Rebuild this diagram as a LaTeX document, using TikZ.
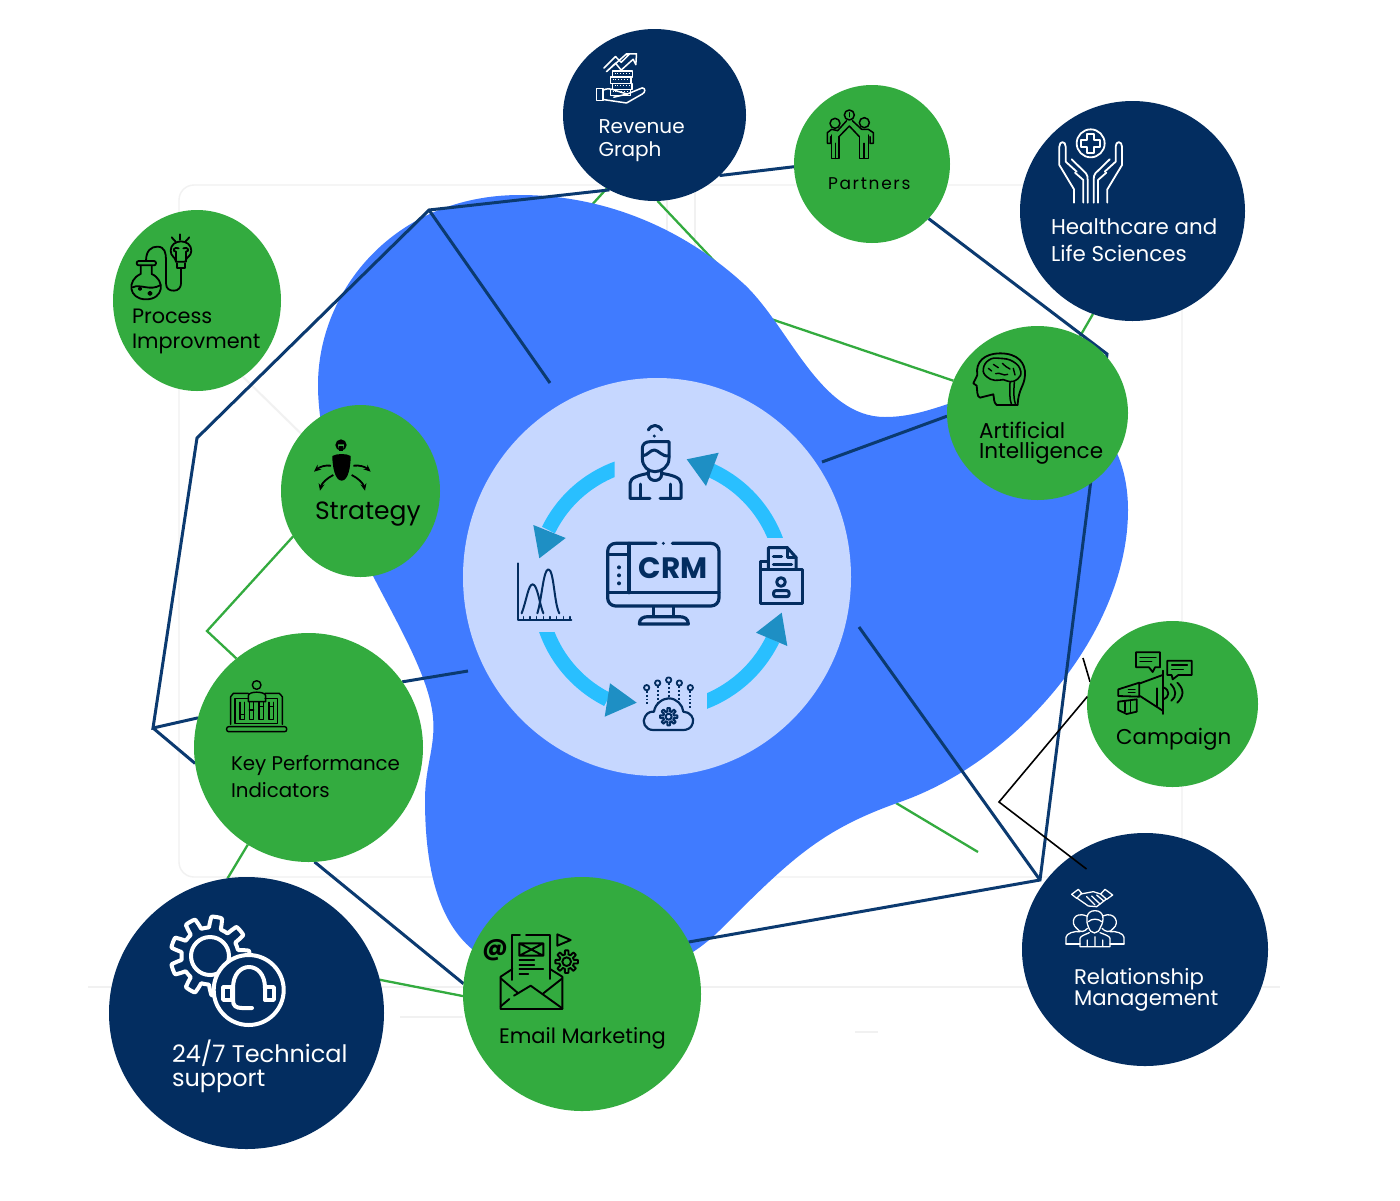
\documentclass[tikz,border=0pt]{standalone}
\usepackage{fontspec}
\setmainfont{Poppins}
\usetikzlibrary{shapes.geometric,arrows.meta}
\definecolor{navy}{HTML}{032D60}
\definecolor{navyline}{HTML}{0B3A70}
\definecolor{leaf}{HTML}{33AB3F}
\definecolor{blobblue}{HTML}{407BFF}
\definecolor{pale}{HTML}{C6D7FF}
\definecolor{sky}{HTML}{29BFFF}
\definecolor{teal}{HTML}{1E8FC4}
\definecolor{faint}{HTML}{F1F1F1}
\pgfdeclarelayer{back}\pgfdeclarelayer{mid}\pgfdeclarelayer{front}
\pgfsetlayers{back,mid,main,front}
\newcommand{\cogshape}[6]{\draw[#6] plot[domain=0:360,samples=181] ({#1+(#3+#4*max(-1,min(1,3*cos(#5*\x))))*cos(\x)},{#2+(#3+#4*max(-1,min(1,3*cos(#5*\x))))*sin(\x)}) -- cycle;}
\tikzset{
 blobnode/.style={ellipse,inner sep=0,outer sep=0,draw=none},
 gnode/.style={blobnode,fill=leaf},
 nnode/.style={blobnode,fill=navy},
 lbl/.style={anchor=base west,inner sep=0,outer sep=0,align=left},
 navyl/.style={draw=navyline,line width=3pt,miter limit=20},
 greenl/.style={draw=leaf,line width=2.3pt},
 blackl/.style={draw=black,line width=1.6pt,miter limit=20},
 faintl/.style={draw=faint,line width=1.4pt},
 ci/.style={draw=navy,line width=3pt,line cap=round,line join=round},
 bi/.style={draw=black,line width=1.8pt,line cap=round,line join=round},
 wi/.style={draw=white,line width=1.5pt,line cap=round,line join=round},
 band/.style={draw=sky,line width=14.5pt},
 head/.style={fill=teal,draw=none}
}
\begin{document}
\begin{tikzpicture}[x=1pt,y=-1pt]
\useasboundingbox (0,0) rectangle (1400,1200);
% nodes
\node[nnode,minimum width=183pt,minimum height=172pt] (rev) at (654.5,115) {};
\node[gnode,minimum width=156pt,minimum height=158pt] (par) at (872,164) {};
\node[nnode,minimum width=225pt,minimum height=220pt] (hea) at (1132.5,211) {};
\node[gnode,minimum width=181pt,minimum height=174pt] (art) at (1037.5,413) {};
\node[gnode,minimum width=171pt,minimum height=166pt] (cam) at (1172.5,704) {};
\node[nnode,minimum width=246pt,minimum height=233pt] (rel) at (1145,949.5) {};
\node[gnode,minimum width=238pt,minimum height=234pt] (ema) at (582,994) {};
\node[nnode,minimum width=275pt,minimum height=272pt] (tec) at (246.5,1013) {};
\node[gnode,minimum width=229pt,minimum height=229pt] (kpi) at (308.5,747.5) {};
\node[gnode,minimum width=159pt,minimum height=172pt] (str) at (360.5,491) {};
\node[gnode,minimum width=168pt,minimum height=181pt] (pro) at (197,300.5) {};
\node[blobnode,fill=pale,minimum width=388pt,minimum height=398pt] (cen) at (657,577) {};
% free points
\coordinate (n1) at (429,210);
\coordinate (n2) at (197,438);
\coordinate (n3) at (153,728);
\coordinate (n4) at (1107,354);
\coordinate (n5) at (1040,880);
\coordinate (e1) at (550,383);
\coordinate (e2) at (468,671);
\coordinate (e3) at (822,462);
\coordinate (e4) at (859,627);
\coordinate (g1) at (768,318);
\coordinate (g2) at (207,631);
\coordinate (g3) at (896,803);
\coordinate (g4) at (978,852);
\coordinate (g5) at (560,240);
\coordinate (k1) at (999,802);
\coordinate (k2) at (1086.5,869);
\coordinate (k3) at (1083,658);
% faint layout lines, green connectors
\begin{pgfonlayer}{back}
\fill[white] (0,0) rectangle (1400,1200);
\draw[faintl,rounded corners=15pt] (179,185) rectangle (1182,877);
\draw[faintl] (667,185) -- (667,240);
\draw[faintl] (695,185) -- (695,260);
\draw[faintl] (88,987) -- (1280,987);
\draw[faintl] (400,1017) -- (463,1017);
\draw[faintl] (855,1032) -- (878,1032);
\draw[faintl,line width=2pt] (pro.301) -- (str.136);
\draw[greenl] (rev.237) -- (g5);
\draw[greenl] (rev.272) -- (g1) -- (art.159);
\draw[greenl] (hea.249) -- (art.61);
\draw[greenl] (str.214) -- (g2) -- (kpi.129);
\draw[greenl] (kpi.238) -- (tec.98);
\draw[greenl] (tec.14) -- (ema.181);
\draw[greenl] (g3) -- (g4);
\draw[blackl] (k3) -- (cam.165);
\fill[blobblue] (520,195) .. controls (600,195) and (680,225) .. (745,285)
 .. controls (790,328) and (820,417) .. (885,417)
 .. controls (910,417) and (930,410) .. (960,400)
 .. controls (1060,370) and (1128,420) .. (1128,510)
 .. controls (1128,630) and (1020,760) .. (900,802)
 .. controls (820,830) and (790,860) .. (720,930)
 .. controls (680,970) and (620,990) .. (560,975)
 .. controls (490,975) and (425,950) .. (425,800)
 .. controls (425,760) and (440,740) .. (430,700)
 .. controls (420,660) and (390,610) .. (370,570)
 .. controls (340,510) and (318,440) .. (318,385)
 .. controls (318,290) and (395,195) .. (520,195) -- cycle;
\end{pgfonlayer}
% navy connectors
\begin{pgfonlayer}{mid}
\draw[navyl] (rev.239) -- (n1) -- (n2) -- (n3) -- (kpi.165);
\draw[navyl] (n1) -- (e1);
\draw[navyl] (n3) -- (kpi.188);
\draw[navyl] (kpi.35) -- (e2);
\draw[navyl] (rev.317) -- (par.182);
\draw[navyl] (par.316) -- (n4) -- (n5) -- (ema.26);
\draw[navyl] (n5) -- (e4);
\draw[navyl] (e3) -- (art.182);
\draw[navyl] (kpi.273) -- (ema.175);
\end{pgfonlayer}
\begin{pgfonlayer}{front}
\draw[blackl] (cam.175) -- (k1) -- (k2);
\end{pgfonlayer}
% cycle arrows
\begin{scope}\clip (700,400) rectangle (850,537);
\draw[band] plot[domain=-18:-66,samples=30] ({659+125*cos(\x)},{584+125*sin(\x)});
\end{scope}
\fill[head] (686.7,459.3) -- (718.7,452.7) -- (706,486) -- cycle;
\begin{scope}\clip (500,400) rectangle (614.7,560);
\draw[band] plot[domain=-106:-154,samples=30] ({659+123*cos(\x)},{584+123*sin(\x)});
\end{scope}
\fill[head] (533.3,525) -- (565.7,538) -- (539.3,558.3) -- cycle;
\begin{scope}\clip (500,632.7) rectangle (630,760);
\draw[band] plot[domain=162:114,samples=30] ({659+(121.5+5*(162-\x)/48)*cos(\x)},{584+(121.5+5*(162-\x)/48)*sin(\x)});
\end{scope}
\fill[head] (610,683.3) -- (636.7,702.7) -- (604.7,716.7) -- cycle;
\begin{scope}\clip (707,600) rectangle (820,760);
\draw[band] plot[domain=74:26,samples=30] ({659+126.5*cos(\x)},{584+126.5*sin(\x)});
\end{scope}
\fill[head] (781.7,612.7) -- (787.3,646) -- (756,632.7) -- cycle;
% central icons, drawn in 3x crop units
\begin{scope}[shift={(480,400)},scale=1/3]
% person
\draw[ci] (505,90) .. controls (515,72) and (535,72) .. (545,90);
\fill[navy] (523,108) circle[radius=5];
\draw[ci] (567,125) -- (567,175) .. controls (567,200) and (545,215) .. (525,215) .. controls (505,215) and (487,200) .. (487,175) -- (487,145) .. controls (487,132) and (497,125) .. (510,125) -- cycle;
\draw[ci] (487,168) .. controls (505,165) and (510,150) .. (523,150) .. controls (535,150) and (545,170) .. (567,168);
\draw[ci] (505,212) -- (505,222) .. controls (505,248) and (545,248) .. (545,222) -- (545,212);
\draw[ci] (510,295) -- (450,295) -- (450,250) .. controls (450,232) and (480,225) .. (505,220);
\draw[ci] (545,220) .. controls (575,225) and (603,232) .. (603,250) -- (603,295) -- (540,295);
\draw[ci] (480,252) -- (480,295) (572,252) -- (572,295);
% monitor
\draw[ci,line width=3.2pt,rounded corners=8pt] (528,430) -- (383,430) -- (383,618) -- (717,618) -- (717,430) -- (577,430);
\fill[navy] (550,430) circle[radius=5];
\draw[ci,line width=3.2pt] (383,578) -- (717,578) (447,430) -- (447,578) (383,463) -- (447,463);
\fill[navy] (417,502) circle[radius=6] (417,526) circle[radius=6] (417,550) circle[radius=6];
\draw[ci,line width=3.2pt] (520,620) -- (520,648) (580,620) -- (580,648);
\draw[ci,line width=3.2pt] (478,672) .. controls (478,655) and (490,650) .. (505,650) -- (597,650) .. controls (612,650) and (625,655) .. (625,672) -- cycle;
% folder
\draw[ci] (842,508) -- (842,484) -- (864,484);
\draw[ci] (842,508) rectangle (966,610);
\draw[ci] (865,505) -- (865,443) -- (922,443) -- (948,472) -- (948,505);
\draw[ci] (922,443) -- (922,472) -- (948,472);
\draw[ci] (880,470) -- (905,470) (880,492) -- (935,492);
\draw[ci] (903,546) circle[radius=13];
\draw[ci,rounded corners=2pt] (881,590) -- (881,572) -- (927,572) -- (927,590) -- cycle;
% chart
\draw[ci,line width=2pt] (114,490) -- (114,660) -- (274,660);
\foreach \t in {130,150,...,270} {\draw[ci,line width=1.6pt] (\t,650) -- (\t,660);}
\draw[ci,line width=2pt] (125,640) .. controls (140,600) and (145,553) .. (158,553) .. controls (172,553) and (178,610) .. (190,640);
\draw[ci,line width=2pt] (172,640) .. controls (185,600) and (190,508) .. (205,508) .. controls (222,508) and (222,610) .. (238,640);
% cloud
\foreach \cx/\cy in {500/863,533/849,566/840,598/849,631/863} {\draw[ci,line width=1.8pt] (\cx,\cy) circle[radius=8];}
\foreach \cx/\cy/\ey in {500/873/915,533/859/905,566/850/895,598/859/905,631/873/925} {\draw[ci,line width=1.8pt,dotted,line cap=butt] (\cx,\cy) -- (\cx,\ey);}
\draw[ci,line width=2.2pt] (520,990) .. controls (495,990) and (485,965) .. (495,950) .. controls (503,935) and (515,935) .. (522,935) .. controls (525,910) and (550,895) .. (566,895) .. controls (590,895) and (608,915) .. (610,935) .. controls (630,935) and (645,955) .. (638,970) .. controls (635,985) and (620,990) .. (610,990) -- cycle;
\cogshape{566}{950}{21}{5}{8}{ci,line width=2pt}
\draw[ci,line width=2pt] (566,950) circle[radius=9];
\end{scope}
\node[font=\fontsize{29.5}{30}\bfseries\selectfont,text=navy,inner sep=0] (crm) at (673,568.3) {CRM};
% process icon
\begin{scope}[shift={(100,200)},scale=1/3]
\draw[bi] (122,197) -- (122,222) .. controls (80,240) and (85,298) .. (138,298) .. controls (192,298) and (196,240) .. (155,222) -- (155,197);
\draw[bi,rounded corners=2pt] (110,183) rectangle (168,196);
\draw[bi] (98,262) .. controls (120,250) and (150,275) .. (182,255);
\draw[bi] (120,266) circle[radius=4] (150,280) circle[radius=5];
\draw[bi] (138,183) .. controls (138,150) and (155,140) .. (172,140) .. controls (195,140) and (198,160) .. (198,180) -- (198,250) .. controls (198,268) and (210,272) .. (222,272) .. controls (235,272) and (243,262) .. (243,250) -- (243,205);
\draw[bi] (228,185) .. controls (226,170) and (212,170) .. (212,152) .. controls (212,115) and (274,115) .. (274,152) .. controls (274,170) and (258,170) .. (256,185) -- cycle;
\draw[bi] (230,190) -- (230,205) -- (255,205) -- (255,190);
\draw[bi] (228,185) -- (228,155) .. controls (215,155) and (222,138) .. (236,145) (258,185) -- (258,155) .. controls (270,155) and (264,138) .. (250,145);
\draw[bi] (240,103) -- (240,120) (215,112) -- (226,124) (268,112) -- (257,124);
\end{scope}
% strategy icon
\begin{scope}[shift={(100,200)},scale=1/3]
\fill (723,735) circle[radius=17];
\fill[leaf] (714,733) -- (732,733) -- (730,745) -- (716,745) -- cycle;
\fill (716,738) rectangle (730,752);
\fill (697,768) .. controls (710,760) and (740,760) .. (752,768) .. controls (752,800) and (745,842) .. (725,842) .. controls (705,842) and (697,800) .. (697,768) -- cycle;
\draw[-{Stealth[length=7pt,width=6pt]},line width=1.8pt] (693,797) .. controls (675,795) and (660,800) .. (642,815);
\draw[-{Stealth[length=7pt,width=6pt]},line width=1.8pt] (760,797) .. controls (780,795) and (795,800) .. (812,815);
\draw[-{Stealth[length=7pt,width=6pt]},line width=1.8pt] (700,825) .. controls (680,835) and (665,850) .. (660,872);
\draw[-{Stealth[length=7pt,width=6pt]},line width=1.8pt] (755,825) .. controls (775,835) and (790,850) .. (795,872);
\end{scope}
% revenue icon
\begin{scope}[shift={(590.5,43)},xscale=1/3,yscale=0.387]
\draw[wi] (40,65) -- (75,35) -- (92,50) -- (118,28) -- (108,30) (108,28) -- (138,28) -- (136,56) -- (128,42) -- (92,70) -- (75,52) -- (48,74) -- cycle;
\foreach \xa/\xb/\ya/\yb in {66/126/72/88,60/122/88/104,66/124/104/120,60/120/120/136} {\draw[wi] (\xa,\ya) rectangle (\xb,\yb); \draw[wi,line width=0.9pt,dotted,line cap=butt] (\xa+6,\ya+6) -- (\xb-6,\ya+6);}
\draw[wi] (18,118) rectangle (38,148);
\draw[wi] (38,122) .. controls (60,112) and (75,125) .. (95,128) -- (110,132) -- (155,116) .. controls (166,116) and (165,128) .. (155,132) -- (108,155) -- (38,146);
\draw[wi] (70,140) -- (110,132);
\end{scope}
% partners icon
\begin{scope}[shift={(815,100)},scale=1/3,bi/.append style={line width=1.5pt}]
\draw[bi] (60,70) circle[radius=15] (148,68) circle[radius=15] (103,45) circle[radius=15];
\draw[bi] (103,38) -- (103,50);
\draw[bi] (68,92) -- (95,62) (112,62) -- (140,88);
\draw[bi] (72,110) -- (103,78) -- (133,110);
\draw[bi] (37,130) -- (37,98) -- (50,88) -- (68,92) (37,130) -- (47,130) -- (47,110);
\draw[bi] (50,105) -- (50,175) -- (72,175) -- (72,110) (61,130) -- (61,175);
\draw[bi] (175,130) -- (175,98) -- (160,88) -- (140,88) (175,130) -- (165,130) -- (165,110);
\draw[bi] (133,110) -- (133,175) -- (160,175) -- (160,105) (147,130) -- (147,175);
\end{scope}
% healthcare icon
\begin{scope}[shift={(1050,120)},scale=1/3,wi/.append style={line width=1.8pt}]
\draw[wi] (122,70) circle[radius=42];
\draw[wi] (112,42) -- (132,42) -- (132,60) -- (150,60) -- (150,80) -- (132,80) -- (132,100) -- (112,100) -- (112,80) -- (94,80) -- (94,60) -- (112,60) -- cycle;
\draw[wi] (72,248) -- (72,208) -- (28,135) -- (28,80) .. controls (28,62) and (47,62) .. (47,80) -- (47,125) -- (80,155);
\draw[wi] (65,118) -- (108,160) .. controls (112,165) and (113,170) .. (113,180) -- (113,248);
\draw[wi] (100,248) -- (100,180) -- (75,158);
\draw[wi] (172,248) -- (172,208) -- (216,135) -- (216,80) .. controls (216,62) and (197,62) .. (197,80) -- (197,125) -- (164,155);
\draw[wi] (179,118) -- (136,160) .. controls (132,165) and (131,170) .. (131,180) -- (131,248);
\draw[wi] (144,248) -- (144,180) -- (169,158);
\end{scope}
% brain icon
\begin{scope}[shift={(965,345)},scale=1/3]
\draw[bi] (158,180) -- (95,180) .. controls (85,172) and (88,160) .. (85,148) -- (45,158) .. controls (35,155) and (37,135) .. (35,122) -- (25,115) -- (37,90) .. controls (30,50) and (60,25) .. (105,25) .. controls (160,25) and (182,55) .. (180,90) .. controls (178,125) and (160,130) .. (158,180) -- cycle;
\draw[bi,line width=1.6pt] plot[smooth cycle,tension=0.8] coordinates {(55,72) (72,45) (105,40) (145,50) (167,78) (158,102) (135,110) (115,104) (90,106) (65,95)};
\draw[bi,line width=1.4pt] (85,58) -- (100,68) (112,55) .. controls (120,60) and (125,70) .. (135,72) (92,86) .. controls (105,80) and (115,95) .. (128,88) (145,70) -- (150,90) (70,70) -- (80,78);
\draw[bi,line width=1.5pt] (135,112) .. controls (135,140) and (132,160) .. (140,180) (148,112) .. controls (146,140) and (145,160) .. (152,180);
\end{scope}
% campaign icon
\begin{scope}[shift={(950,330)},scale=1/3]
\draw[bi] (558,967) -- (630,967) -- (630,1012) -- (615,1012) -- (608,1026) -- (597,1012) -- (558,1012) -- cycle;
\draw[bi,line width=1.3pt] (570,982) -- (618,982) (570,995) -- (605,995);
\draw[bi] (652,992) -- (725,992) -- (725,1035) -- (685,1035) -- (668,1048) -- (665,1035) -- (652,1035) -- cycle;
\draw[bi,line width=1.3pt] (665,1005) -- (712,1005) (665,1018) -- (700,1018);
\draw[bi] (638,1022) -- (638,1152);
\draw[bi] (570,1060) -- (638,1035) (570,1098) -- (638,1142);
\draw[bi] (620,1075) -- (620,1130);
\draw[bi] (505,1078) -- (568,1058) -- (568,1100) -- (505,1098) -- cycle;
\draw[bi,line width=1.3pt] (535,1078) -- (555,1078) (535,1088) -- (555,1088);
\draw[bi] (505,1115) -- (560,1108) -- (560,1145) -- (530,1152) -- (505,1140) -- cycle;
\draw[bi,line width=1.3pt] (525,1115) -- (525,1145) (542,1112) -- (542,1148);
\draw[bi] (640,1072) .. controls (660,1080) and (660,1100) .. (640,1108);
\draw[bi] (662,1062) .. controls (680,1080) and (680,1100) .. (664,1112);
\draw[bi] (682,1058) .. controls (705,1080) and (700,1100) .. (682,1118);
\end{scope}
% kpi icon
\begin{scope}[shift={(220,675)},scale=1/3,bi/.append style={line width=1.4pt}]
\draw[bi] (32,148) -- (32,65) -- (40,55) -- (85,55) (135,55) -- (178,55) -- (187,65) -- (187,148);
\draw[bi] (85,70) -- (45,70) -- (45,145) -- (172,145) -- (172,70) -- (135,70);
\draw[bi,rounded corners=2pt] (20,155) rectangle (200,170);
\draw[bi] (110,30) circle[radius=13];
\draw[bi] (85,80) -- (85,62) .. controls (85,48) and (135,48) .. (137,62) -- (137,80) -- cycle;
\foreach \bx/\bl in {60/118,88/105,117/95,147/95} {\draw[bi] (\bx,82) -- (\bx,133) -- (\bx+13,133) -- (\bx+13,82) (\bx,\bl) -- (\bx+13,\bl);}
\end{scope}
% email icon
\begin{scope}[shift={(480,925)},scale=1/3,bi/.append style={line width=1.9pt}]
\draw[bi] (97,132) -- (62,155) -- (62,252) -- (247,252) -- (247,155) -- (210,132);
\draw[bi] (62,160) -- (115,205) (247,160) -- (190,205);
\draw[bi] (62,244) -- (88,222) (102,212) -- (152,182) -- (247,250);
\draw[bi] (97,165) -- (97,30) -- (120,30) (138,30) -- (210,30) -- (210,162);
\draw[bi] (118,55) rectangle (190,92) (118,55) -- (190,92) (118,92) -- (190,55);
\draw[bi,line width=1.4pt] (118,105) -- (163,105) (118,120) -- (163,120) (118,132) -- (190,132) (118,147) -- (145,147);
\draw[bi] (232,28) -- (272,45) -- (232,62) -- cycle;
\cogshape{260}{110}{28}{6}{8}{bi}
\draw[bi] (260,110) circle[radius=13];
\end{scope}
\node[font=\fontsize{24}{24}\bfseries\selectfont,inner sep=0] (atsign) at (495,950.5) {@};
% technical support icon
\cogshape{210}{956}{34}{5.5}{9}{draw=white,line width=4pt,line join=round}
\draw[white,line width=4pt] (210,956) circle[radius=19];
\draw[white,fill=navy,line width=4pt] (248.7,990) circle[radius=35];
\draw[white,line width=4pt,line join=round,line cap=round] (233,1000) -- (233,988) .. controls (233,960) and (265,960) .. (265,988) -- (265,1000);
\draw[white,line width=3.5pt,line join=round] (223,987) rectangle (232,1000) (265,987) rectangle (274,1000);
\draw[white,line width=4pt,line cap=round] (233,1000) .. controls (233,1006) and (236,1008) .. (242,1008) -- (252,1008);
% relationship icon
\begin{scope}[shift={(980,780)},scale=1/3,wi/.append style={line width=1.3pt}]
\draw[wi] (275,343) -- (295,328) -- (305,340) -- (290,355) -- cycle;
\draw[wi] (398,345) -- (375,328) -- (362,342) -- (380,358) -- cycle;
\draw[wi] (302,342) -- (340,335) -- (362,342) (292,355) -- (325,378) -- (350,380) -- (378,358);
\draw[wi] (320,350) -- (345,375) (335,348) -- (360,372) (350,345) -- (370,362);
\draw[wi] (345,392) .. controls (315,392) and (318,425) .. (325,440) .. controls (332,465) and (355,465) .. (362,440) .. controls (372,425) and (375,392) .. (345,392) -- cycle;
\draw[wi] (325,425) .. controls (335,415) and (355,415) .. (365,425);
\draw[wi] (320,408) .. controls (280,392) and (270,430) .. (290,445) .. controls (300,460) and (315,455) .. (322,445);
\draw[wi] (368,408) .. controls (405,392) and (420,430) .. (400,445) .. controls (390,460) and (375,455) .. (366,445);
\draw[wi] (258,492) -- (258,472) .. controls (258,460) and (285,452) .. (300,455);
\draw[wi] (432,492) -- (432,472) .. controls (432,460) and (405,452) .. (390,455);
\draw[wi] (258,492) -- (300,492) (390,492) -- (432,492);
\draw[wi] (300,500) -- (300,475) .. controls (300,468) and (320,462) .. (328,458) (390,500) -- (390,475) .. controls (390,468) and (370,462) .. (360,458) (300,500) -- (390,500) (345,470) -- (345,500) (322,480) -- (322,500) (368,480) -- (368,500);
\end{scope}
% labels (anchor = baseline of the last line)
\node[lbl,text=white,font=\fontsize{20}{23}\selectfont] (trev) at (598.5,156) {Revenue\\Graph};
\node[lbl,text=black,font=\fontsize{17}{19}\selectfont\addfontfeature{LetterSpace=10}] (tpar) at (828,189) {Partners};
\node[lbl,text=white,font=\fontsize{21.4}{27}\selectfont] (thea) at (1051,261) {Healthcare and\\Life Sciences};
\node[lbl,text=black,font=\fontsize{20.8}{25}\selectfont] (tpro) at (132,348) {Process\\Improvment};
\node[lbl,text=black,font=\fontsize{25}{30}\selectfont] (tstr) at (315,519) {Strategy};
\node[lbl,text=black,font=\fontsize{21.5}{20}\selectfont] (tart) at (979,458.5) {Artificial\\Intelligence};
\node[lbl,text=black,font=\fontsize{21.4}{27}\selectfont] (tcam) at (1116,744) {Campaign};
\node[lbl,text=black,font=\fontsize{19.8}{27}\selectfont] (tkpi) at (231,770) {Key Performance};
\node[lbl,text=black,font=\fontsize{19.8}{27}\selectfont] (tkp2) at (231,797) {Indicators};
\node[lbl,text=black,font=\fontsize{21}{25}\selectfont] (tema) at (499,1043) {Email Marketing};
\node[lbl,text=white,font=\fontsize{24}{24}\selectfont] (ttec) at (172,1086) {24/7 Technical\\support};
\node[lbl,text=white,font=\fontsize{21.2}{21}\selectfont] (trel) at (1074,1005) {Relationship\\Management};
\end{tikzpicture}
\end{document}
